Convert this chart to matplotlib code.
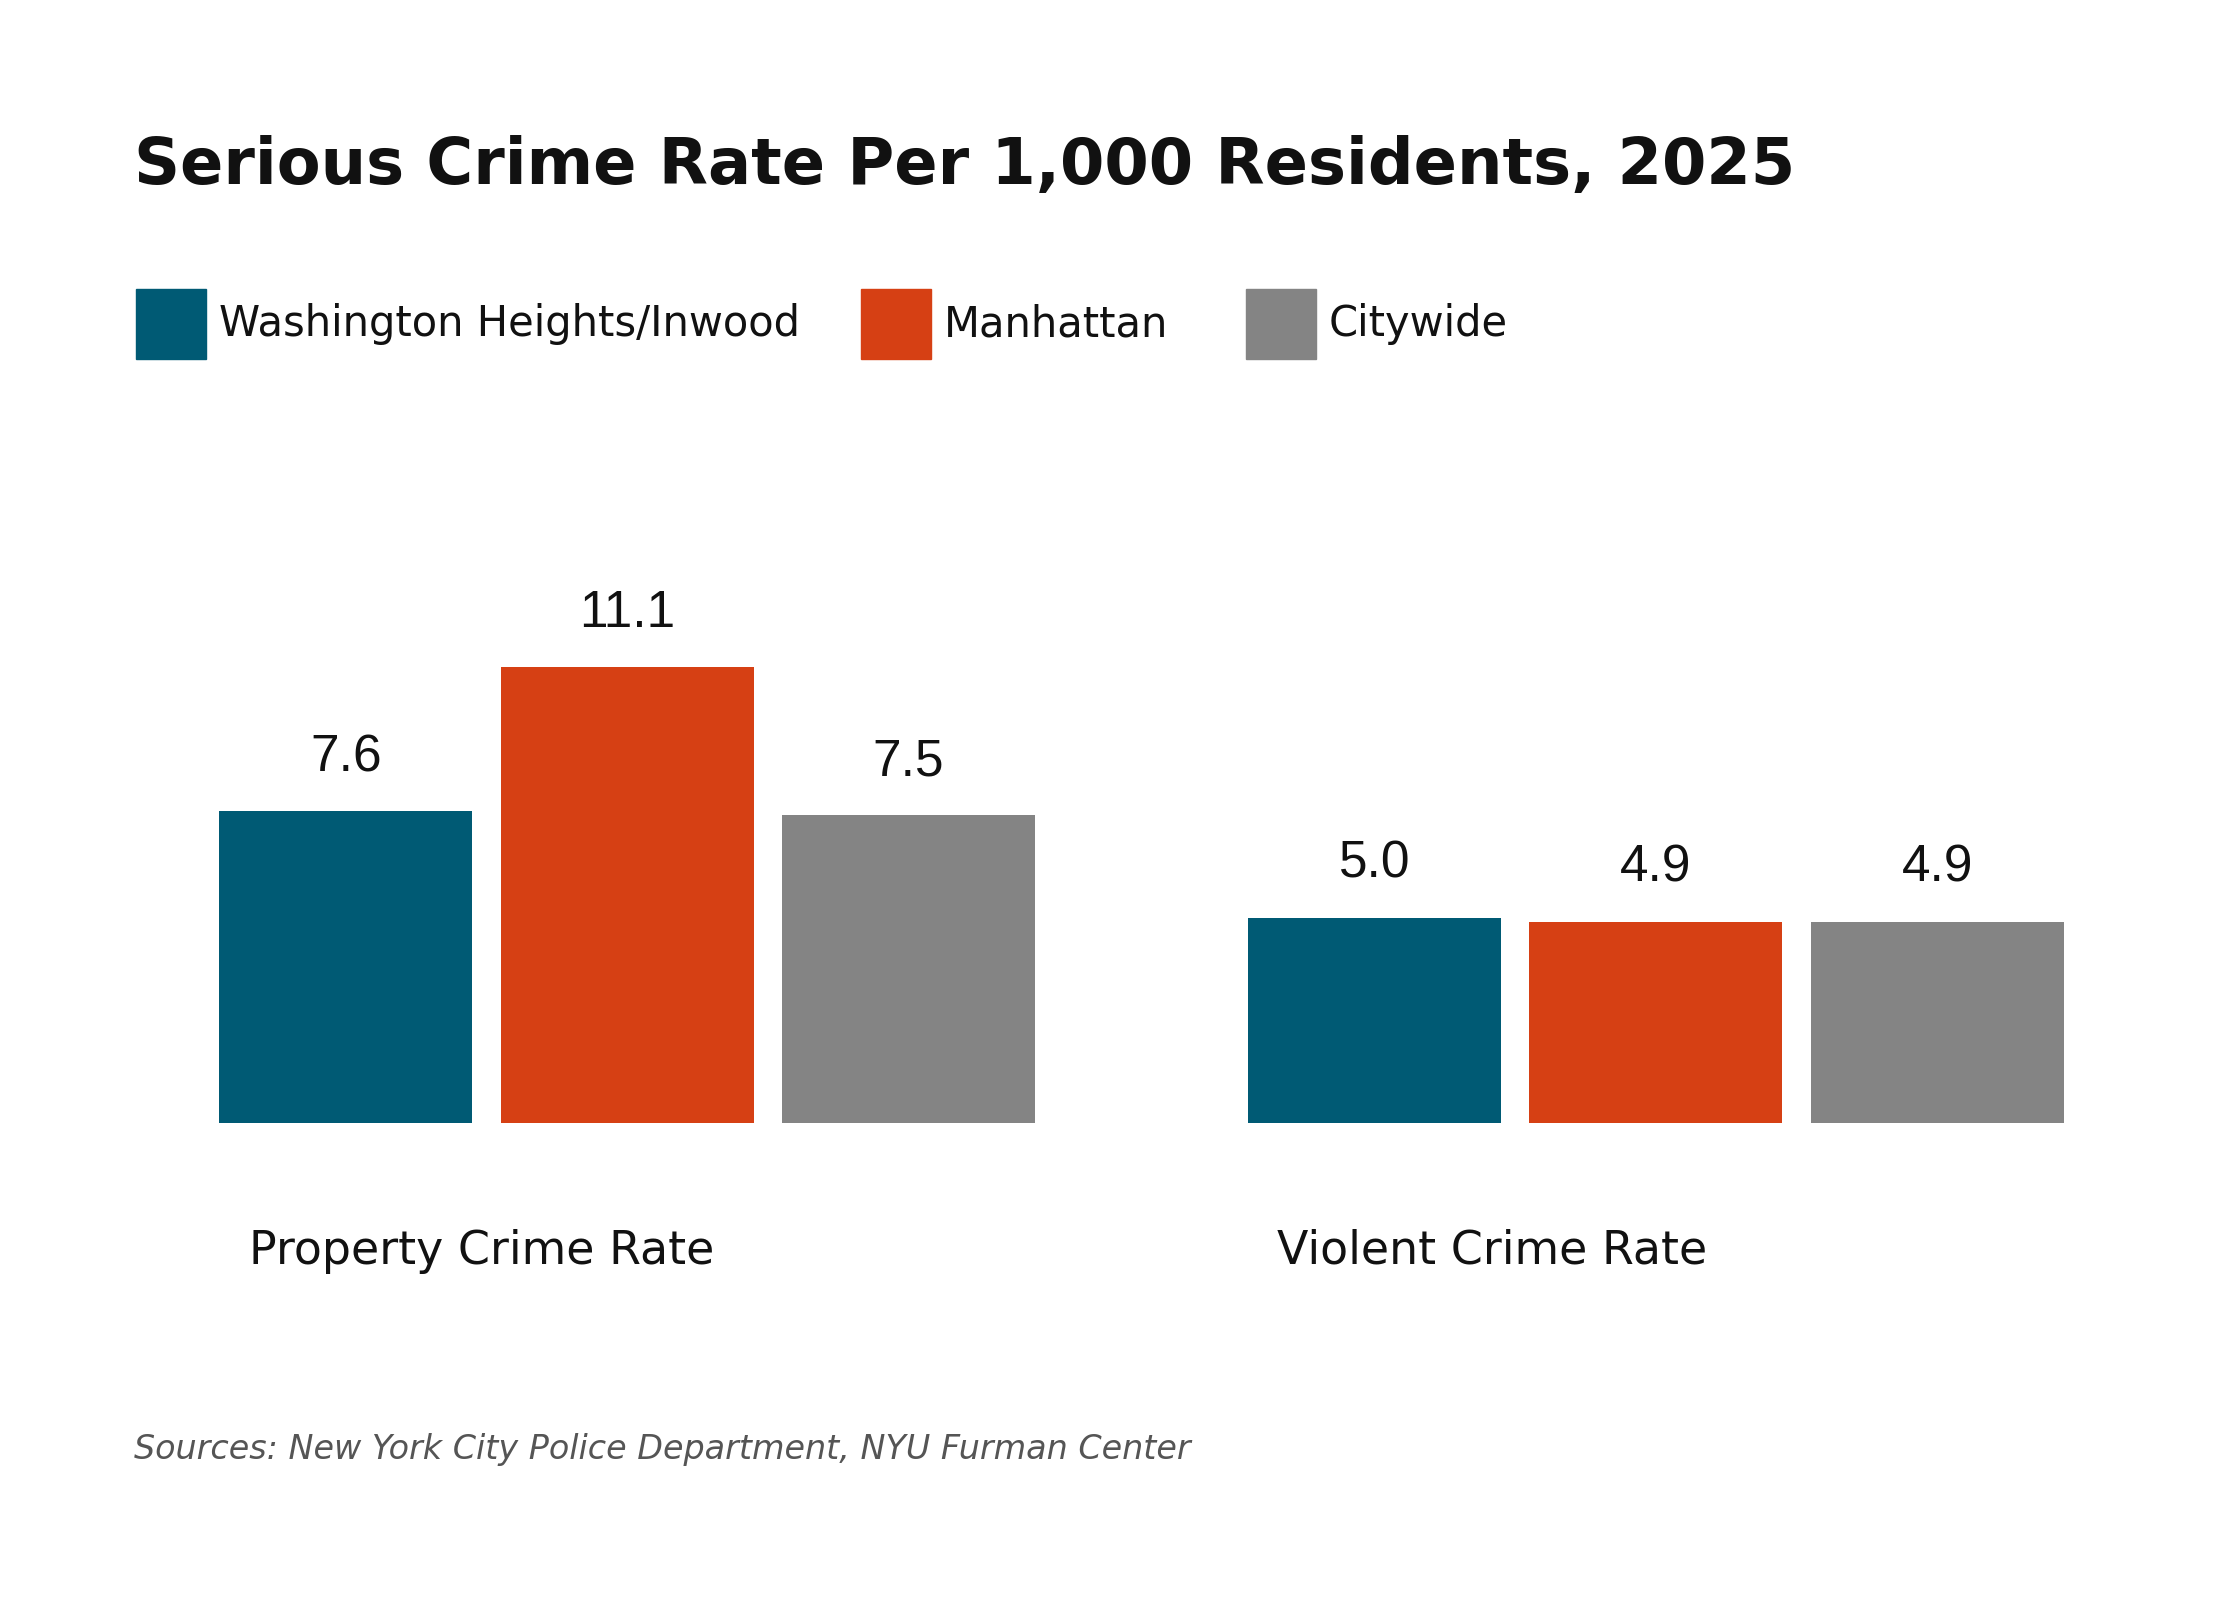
import matplotlib
matplotlib.use("Agg")
import matplotlib.pyplot as plt
from matplotlib.patches import Rectangle

categories = ["Property Crime Rate", "Violent Crime Rate"]
series = ["Washington Heights/Inwood", "Manhattan", "Citywide"]
values = {
    "Washington Heights/Inwood": [7.6, 5.0],
    "Manhattan": [11.1, 4.9],
    "Citywide": [7.5, 4.9],
}
labels = {
    "Washington Heights/Inwood": ["7.6", "5.0"],
    "Manhattan": ["11.1", "4.9"],
    "Citywide": ["7.5", "4.9"],
}
colors = ["#005a74", "#d64014", "#848484"]

W, H = 1568, 1120
fig = plt.figure(figsize=(22.4, 16), dpi=100)
fig.patch.set_facecolor("white")
base = 786
ax = fig.add_axes([0, 1 - base / H, 1, base / H])
ax.set_xlim(0, W)
ax.set_ylim(0, base / 28.74)
ax.axis("off")

centers = [439, 1159]
step = 197
bw = 177
for i, s in enumerate(series):
    xs = [c + (i - 1) * step for c in centers]
    ax.bar(xs, values[s], width=bw, color=colors[i])
    for x, v, l in zip(xs, values[s], labels[s]):
        ax.text(x, v + 0.7, l, ha="center", va="bottom", fontsize=37,
                family="Liberation Sans", color="#111111")

def fx(x): return x / W
def fy(y): return 1 - y / H

fig.text(fx(94), fy(116), "Serious Crime Rate Per 1,000 Residents, 2025",
         fontsize=46, fontweight="bold", va="center", ha="left", color="#111111")

leg_x = [95, 603, 872]
for i, s in enumerate(series):
    fig.add_artist(Rectangle((fx(leg_x[i]), fy(251)), 49 / W, 49 / H,
                             transform=fig.transFigure, color=colors[i]))
    fig.text(fx(leg_x[i] + 58), fy(227), s, fontsize=30, va="center",
             ha="left", color="#111111")

for c, cat in zip(centers, categories):
    fig.text(fx(c - 265), fy(876), cat, fontsize=33, va="center", ha="left",
             color="#111111")

fig.text(fx(94), fy(1015), "Sources: New York City Police Department, NYU Furman Center",
         fontsize=24, style="italic", va="center", ha="left", color="#555555")

fig.savefig("out.png", dpi=100, facecolor="white")
